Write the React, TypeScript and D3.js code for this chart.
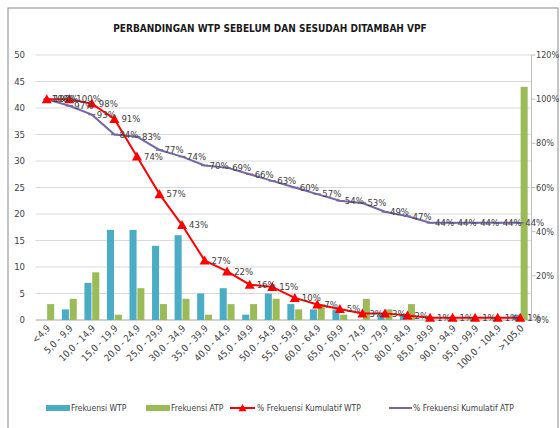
import React from "react";
import * as d3 from "d3";

const categories = [
  "<4,9", "5,0 - 9,9", "10,0 - 14,9", "15,0 - 19,9", "20,0 - 24,9", "25,0 - 29,9",
  "30,0 - 34,9", "35,0 - 39,9", "40,0 - 44,9", "45,0 - 49,9", "50,0 - 54,9", "55,0 - 59,9",
  "60,0 - 64,9", "65,0 - 69,9", "70,0 - 74,9", "75,0 - 79,9", "80,0 - 84,9", "85,0 - 89,9",
  "90,0 - 94,9", "95,0 - 99,9", "100,0 - 104,9", ">105,0",
];
const wtpFreq = [0, 2, 7, 17, 17, 14, 16, 5, 6, 1, 5, 3, 2, 2, 0, 1, 1, 0, 0, 0, 0, 1];
const atpFreq = [3, 4, 9, 1, 6, 3, 4, 1, 3, 3, 4, 2, 3, 1, 4, 2, 3, 0, 0, 0, 0, 44];
const wtpCum = [100, 100, 98, 91, 74, 57, 43, 27, 22, 16, 15, 10, 7, 5, 3, 3, 2, 1, 1, 1, 1, 1];
const atpCum = [100, 97, 93, 84, 83, 77, 74, 70, 69, 66, 63, 60, 57, 54, 53, 49, 47, 44, 44, 44, 44, 44];
const leftTicks = [0, 5, 10, 15, 20, 25, 30, 35, 40, 45, 50];
const rightTicks = [0, 20, 40, 60, 80, 100, 120];

const title = "PERBANDINGAN WTP SEBELUM DAN SESUDAH DITAMBAH VPF";
const font = "'DejaVu Sans Condensed', 'Liberation Sans Narrow', sans-serif";

const BLUE = "#4BACC6";
const GREEN = "#9BBB59";
const RED = "#FF0000";
const PURPLE = "#7467A6";
const TEXT = "#404040";

const W = 560;
const H = 428;
const plot = { left: 35.5, right: 531.5, top: 55, bottom: 320 };

const tri = (x: number, y: number, s = 5) =>
  `M${x},${y - s}L${x + s},${y + s * 0.8}L${x - s},${y + s * 0.8}Z`;

export default function App() {
  const x0 = d3.scaleBand<number>().domain(d3.range(categories.length)).range([plot.left, plot.right]).paddingInner(0.34).paddingOuter(0.17);
  const x1 = d3.scaleBand<string>().domain(["wtp", "atp"]).range([0, x0.bandwidth()]).paddingInner(0.1);
  const yL = d3.scaleLinear().domain([0, 50]).range([plot.bottom, plot.top]);
  const yR = d3.scaleLinear().domain([0, 120]).range([plot.bottom, plot.top]);
  const cx = (i: number) => (x0(i) as number) + x0.bandwidth() / 2;

  const line = d3.line<number>().x((_, i) => cx(i)).y((d) => yR(d));

  return (
    <svg width={W} height={H} style={{ position: "absolute", left: 0, top: 0 }} fontFamily={font}>
      <rect x={0} y={0} width={W} height={H} fill="#fff" />
      <rect x={8} y={8} width={W - 10} height={H + 20} fill="#fff" stroke="#8a8a8a" strokeWidth={1} />
      <text x={270} y={32} textAnchor="middle" fontSize={10} fontWeight="bold" fill="#1a1a1a">{title}</text>

      {leftTicks.map((t) => (
        <g key={"l" + t}>
          <line x1={plot.left} x2={plot.right} y1={yL(t)} y2={yL(t)} stroke={t === 0 ? "#a6a6a6" : "#d9d9d9"} strokeWidth={1} />
          <text x={25} y={yL(t)} dy="0.35em" textAnchor="end" fontSize={9.5} fill={TEXT}>{t}</text>
        </g>
      ))}
      <line x1={plot.right} x2={plot.right} y1={plot.top} y2={plot.bottom} stroke="#bfbfbf" />
      {rightTicks.map((t) => (
        <g key={"r" + t}>
          <line x1={plot.right} x2={plot.right + 4} y1={yR(t)} y2={yR(t)} stroke="#bfbfbf" />
          <text x={536} y={yR(t)} dy="0.35em" fontSize={9} fill={TEXT}>{t}%</text>
        </g>
      ))}

      {categories.map((c, i) => (
        <g key={c}>
          <rect x={(x0(i) as number) + (x1("wtp") as number)} y={yL(wtpFreq[i])} width={x1.bandwidth()} height={plot.bottom - yL(wtpFreq[i])} fill={BLUE} />
          <rect x={(x0(i) as number) + (x1("atp") as number)} y={yL(atpFreq[i])} width={x1.bandwidth()} height={plot.bottom - yL(atpFreq[i])} fill={GREEN} />
          <text transform={`translate(${cx(i) + 4},${plot.bottom + 9}) rotate(-45)`} textAnchor="end" fontSize={9.5} fill={TEXT}>{c}</text>
        </g>
      ))}

      <path d={line(atpCum) || ""} fill="none" stroke={PURPLE} strokeWidth={2} />
      {atpCum.map((v, i) => (
        <line key={"am" + i} x1={cx(i) - 3.5} x2={cx(i) + 3.5} y1={yR(v)} y2={yR(v)} stroke={PURPLE} strokeWidth={1.5} />
      ))}
      <path d={line(wtpCum) || ""} fill="none" stroke={RED} strokeWidth={2} />
      {wtpCum.map((v, i) => (
        <path key={"wm" + i} d={tri(cx(i), yR(v))} fill={RED} />
      ))}

      {atpCum.map((v, i) => (
        <text key={"al" + i} x={cx(i) + 5} y={yR(v)} dy="0.35em" fontSize={9.5} fill={TEXT}>{v}%</text>
      ))}
      {wtpCum.map((v, i) => (
        <text key={"wl" + i} x={cx(i) + 7} y={yR(v)} dy="0.35em" fontSize={9.5} fill={TEXT}>{v}%</text>
      ))}

      <g fontSize={8.5} fill={TEXT}>
        <rect x={46} y={405} width={24} height={6} fill={BLUE} />
        <text x={71} y={408} dy="0.35em">Frekuensi WTP</text>
        <rect x={146} y={405} width={24} height={6} fill={GREEN} />
        <text x={171} y={408} dy="0.35em">Frekuensi ATP</text>
        <line x1={230} x2={255} y1={408} y2={408} stroke={RED} strokeWidth={2} />
        <path d={tri(242.5, 408, 4)} fill={RED} />
        <text x={257} y={408} dy="0.35em">% Frekuensi Kumulatif WTP</text>
        <line x1={389} x2={412} y1={408} y2={408} stroke={PURPLE} strokeWidth={2} />
        <text x={413} y={408} dy="0.35em">% Frekuensi Kumulatif ATP</text>
      </g>
    </svg>
  );
}
